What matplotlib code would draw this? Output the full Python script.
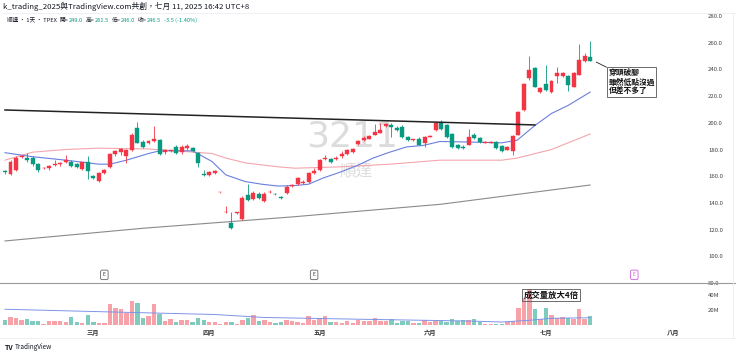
#! /usr/bin/env python
import matplotlib
matplotlib.use('Agg')
import matplotlib.pyplot as plt
import matplotlib.transforms as mtrans
from matplotlib.lines import Line2D

plt.rcParams['font.family'] = ['Noto Sans CJK TC', 'DejaVu Sans']

# daily bars, index 0 = first visible session
opens = [164, 162, 165, 174.5, 174, 174, 169, 166, 166, 168.5,
         169, 170.6, 171, 169, 165.3, 170.6, 160, 156.4, 162.4, 167,
         176.6, 178, 175, 180, 196, 185.6, 185, 186.4, 187, 178,
         178.8, 182, 178, 181, 181, 177.4, 161.8, 161, 162.6, 148,
         133, 125, 132.5, 128, 146, 143, 147, 141.6, 148, 146.6,
         144.5, 147.4, 152.6, 154, 155, 155.6, 162.4, 165, 172.9, 173,
         172.9, 175, 177, 178, 184, 187, 188, 191, 192.4, 197.6,
         198.4, 196, 197, 189, 187, 188, 184.6, 189.5, 194.6, 200,
         198, 191.6, 183.4, 182, 183.4, 191, 188.6, 185, 185, 185.6,
         182.6, 180, 179, 191, 209.6, 233.6, 241, 223, 229, 223,
         235, 235, 235, 227, 236, 246, 249]
highs = [165, 172, 175, 176, 177.6, 175, 170, 167, 168.5, 172,
         171, 176, 172, 170, 171, 175, 161, 163, 165.5, 177.5,
         179.5, 181, 180.5, 192, 200.6, 187, 187, 197.6, 188, 180.5,
         180, 183, 183, 184, 182, 178, 165, 164, 165, 148.5,
         138, 133, 133.5, 145, 154, 149, 148, 148, 149.5, 147.5,
         145, 153.5, 154, 159.5, 157, 163, 166, 173, 176, 174,
         175.5, 179, 180.5, 181.5, 187, 190, 191, 199, 200, 200,
         199.5, 197.5, 198, 190, 188, 189, 190, 191, 200.5, 202,
         199, 192, 184, 183, 195, 192, 189.5, 186, 186.5, 186,
         183, 182.5, 190.5, 208.5, 229.5, 250, 242, 226.5, 243, 232,
         242, 238, 236, 238, 259, 252, 261.5]
lows = [162, 161, 164, 173.5, 171, 168, 163.5, 165.5, 165, 168,
        168, 170, 167, 166, 164.5, 158, 158, 155.5, 161.5, 166,
        175.5, 176, 170, 179, 184.5, 181, 184, 185.5, 176, 177,
        178, 177, 177, 180, 178.5, 167, 160, 160, 162, 147.5,
        132.5, 120.5, 132, 127, 141.5, 142, 143, 141, 147.5, 146,
        143, 147, 152, 153.5, 154.5, 155, 162, 164, 172, 170,
        172, 174, 176, 177.5, 183, 186, 187.5, 190.5, 192, 197,
        189, 194, 188.5, 186.5, 186.5, 183, 182, 189, 194, 194.5,
        188.5, 181.5, 180.5, 180.5, 183, 188, 185, 184.5, 184.5, 180.5,
        178, 179.5, 176, 190.5, 209, 232, 226.5, 222.5, 224, 222.5,
        230, 234.5, 224, 226.5, 235.5, 245.5, 246]
closes = [163, 171, 174, 175.5, 172, 169, 164.6, 166.5, 167.5, 169.5,
          170, 172, 168, 167, 170.6, 164, 158.7, 162.4, 164.6, 176.6,
          178.9, 180.4, 179.6, 191, 185, 182, 186, 187.8, 177, 179.6,
          179.3, 177.6, 182, 182.6, 179, 170, 161, 163, 164, 148,
          133, 121, 133, 144, 142.4, 147.4, 143.7, 147, 148, 146.3,
          144, 152, 153, 158.6, 155.6, 162.4, 164, 172, 174, 170.6,
          174, 177, 179.6, 180.4, 186.4, 188.6, 190, 193, 194.6, 199,
          197, 194.6, 189, 187, 187.2, 183.4, 189, 190.3, 200, 195,
          189, 182, 181, 181, 189, 188.6, 185.6, 185.2, 185.6, 181,
          179, 182, 190, 208, 229, 239.6, 227, 226, 224.6, 231,
          237, 237, 228, 237, 247, 250, 246.5]
volumes = [6.3, 10.7, 8.9, 7.1, 8, 5.3, 5.3, 1.7, 4.9, 4.9,
           4.9, 3.6, 10.7, 4.4, 2.7, 13.3, 3.6, 2.7, 2.7, 28.4,
           23.1, 21.7, 15.6, 32, 29.7, 9.7, 12, 28.4, 14.3, 5.3,
           7.6, 3.6, 6.3, 6.3, 3.6, 9.7, 6.3, 3.6, 3.6, 0.9,
           4.4, 4.4, 0.9, 6.3, 8.9, 13.3, 5.3, 6.3, 4.4, 2.7,
           4.4, 7.1, 5.3, 3.6, 2.7, 12, 7.1, 9.7, 12, 4.4,
           4.4, 2.7, 5.3, 2.7, 6.3, 5.3, 5.3, 8.9, 5.3, 5.3,
           8, 2.7, 5.3, 5.3, 2.7, 2.7, 6.3, 4.4, 5.3, 5.3,
           4.4, 7.6, 5.3, 6.3, 7.1, 7.6, 3.6, 1.7, 0.9, 1.7,
           1.7, 4.4, 5.3, 23.1, 35.6, 47.6, 20.9, 7.6, 23.1, 12.9,
           8.9, 10.7, 8.9, 7.6, 20.9, 7.6, 12]

# moving averages (bar index, value)
ma20_x = [0, 5, 11, 17, 19, 22, 26, 28, 31, 34, 37.5, 40, 43.5, 46.5, 49.5, 52.5,
          55, 57.6, 60.7, 63.8, 66.7, 69.7, 72.8, 75.7, 78.8, 84, 90, 92.8, 96, 99, 102, 106]
ma20_y = [177.6, 174.6, 172, 169, 169, 172, 177, 179, 179, 179, 171, 161, 156, 154, 152.6, 153,
          154, 158.6, 163, 168, 173.6, 178, 182, 183, 186, 185.6, 185, 187, 198, 207, 213, 223]
ma60_x = [0, 5, 11, 17, 26, 31, 37.5, 40, 43.5, 49.5, 52.5, 60.7, 69.7, 78.8, 90, 92.8, 99, 106]
ma60_y = [172, 178, 180, 181, 180.4, 179, 177, 173.6, 170, 167, 166, 167, 169, 172, 172, 173.6, 180, 191.6]
ma240_x = [0, 25, 52, 79, 106]
ma240_y = [111.5, 121, 129.5, 139, 153.4]
vol_ma_x = [0, 17, 38, 47, 65, 84, 90, 95, 99, 106]
vol_ma_y = [21, 17.8, 14, 10, 7.6, 5.3, 4, 6.3, 8.9, 9.7]

# neckline drawn on the chart
trend_x = [0, 96]
trend_y = [209.6, 198.4]

month_labels = ['三月', '四月', '五月', '六月', '七月', '八月']
month_pos = [16, 37, 57, 77, 98, 121]
earnings_pos = [18, 56, 114]
price_ticks = [80, 100, 120, 140, 160, 180, 200, 220, 240, 260, 280]
vol_ticks = [20, 40]

UP = '#f23645'
DN = '#089981'
UP_V = '#f7a2a9'
DN_V = '#80cbbd'
W, H = 740, 355

def fx(px):
    return px / W

def fy(py):
    return 1 - py / H

fig = plt.figure(figsize=(7.4, 3.55), dpi=100)
fig.patch.set_facecolor('white')

ax = fig.add_axes([fx(3), fy(283), fx(694), 271 / H])
axv = fig.add_axes([fx(3), fy(326), fx(694), 42 / H], sharex=ax)

n = len(closes)
for i in range(n):
    o, h, l, c = opens[i], highs[i], lows[i], closes[i]
    col = UP if c >= o else DN
    ax.vlines(i, l, h, color=col, lw=0.6, zorder=3)
    ax.bar(i, max(abs(c - o), 0.5), bottom=min(o, c), width=0.72, color=col,
           edgecolor=col, lw=0.3, zorder=4)
    axv.bar(i, volumes[i], width=0.8, color=UP_V if c >= o else DN_V, zorder=2)

ax.plot(ma240_x, ma240_y, color='#8a8a8a', lw=0.8, zorder=2)
ax.plot(ma60_x, ma60_y, color='#f3a6ae', lw=0.8, zorder=2)
ax.plot(ma20_x, ma20_y, color='#6a7fe0', lw=0.8, zorder=2)
ax.plot(trend_x, trend_y, color='#222222', lw=1.1, zorder=5)
axv.plot(vol_ma_x, vol_ma_y, color='#7e94e8', lw=0.7, zorder=3)

# watermark
ax.text(0.503, 0.54, '3211', transform=ax.transAxes, fontsize=26, color='#dcdcdc',
        ha='center', va='center', zorder=1, family=['DejaVu Sans'])
ax.text(0.509, 0.415, '順達', transform=ax.transAxes, fontsize=12, color='#dcdcdc',
        ha='center', va='center', zorder=1)

# earnings markers
tr = mtrans.blended_transform_factory(ax.transData, ax.transAxes)
for k, e in enumerate(earnings_pos):
    ec = '#d060e0' if k == len(earnings_pos) - 1 else '#666666'
    tc = '#d060e0' if k == len(earnings_pos) - 1 else '#333333'
    ax.text(e, 0.03, 'E', transform=tr, fontsize=3.6, color=tc, ha='center', va='center',
            bbox=dict(boxstyle='round,pad=0.45,rounding_size=0.3', fc='white', ec=ec, lw=0.6))

ax.annotate('穿頭破腳\n雖然低點沒過\n但差不多了', xy=(107.1, 245.5), xytext=(109.3, 230.6),
            fontsize=5.6, fontweight='bold', color='#111111', ha='left', va='center',
            linespacing=1.05,
            bbox=dict(boxstyle='square,pad=0.2', fc='white', ec='#555555', lw=0.6),
            arrowprops=dict(arrowstyle='-', color='#222222', lw=0.6, relpos=(0, 1),
                            shrinkA=0, shrinkB=0))

axv.text(98.9, 40, '成交量放大4倍', fontsize=6, fontweight='bold', color='#111111',
         ha='center', va='center', zorder=6,
         bbox=dict(boxstyle='square,pad=0.15', fc='none', ec='#555555', lw=0.6))

ax.set_xlim(-0.36, 125.36)
ax.set_ylim(80, 283)
axv.set_ylim(-1.33, 54.67)

for a in (ax, axv):
    for s in a.spines.values():
        s.set_visible(False)
    a.yaxis.tick_right()
    a.tick_params(axis='y', length=0, pad=8, labelsize=4.3, labelcolor='#444444')

ax.set_yticks(price_ticks)
ax.set_yticklabels(['%.1f' % t for t in price_ticks])
ax.tick_params(axis='x', bottom=False, labelbottom=False)
axv.set_yticks(vol_ticks)
axv.set_yticklabels(['%dM' % t for t in vol_ticks])
axv.set_xticks(month_pos)
axv.set_xticklabels(month_labels, fontweight='bold')
axv.tick_params(axis='x', length=0, pad=2.5, labelsize=4.5, labelcolor='#333333')

# pane borders
fig.add_artist(Line2D([0, fx(735)], [fy(283.3)] * 2, color='#9a9a9a', lw=0.8))
fig.add_artist(Line2D([fx(3), fx(735)], [fy(13)] * 2, color='#eceef2', lw=0.6))
fig.add_artist(Line2D([fx(733)] * 2, [fy(13), fy(338)], color='#eceef2', lw=0.6))
fig.add_artist(Line2D([0, fx(735)], [fy(338)] * 2, color='#eceef2', lw=0.6))

# header
fig.text(fx(3), fy(6), 'k_trading_2025與TradingView.com共創，七月 11, 2025 16:42 UTC+8',
         fontsize=5.6, color='#131722', va='center')

renderer = fig.canvas.get_renderer()
chg = closes[-1] - closes[-2]
pieces = [('順達 · 1天 · TPEX', '#131722', 3),
          ('開=', '#131722', 0), ('%.1f' % opens[-1], DN, 3),
          ('高=', '#131722', 0), ('%.1f' % highs[-1], DN, 3),
          ('低=', '#131722', 0), ('%.1f' % lows[-1], DN, 3),
          ('收=', '#131722', 0), ('%.1f' % closes[-1], DN, 3),
          ('%.1f (%.2f%%)' % (chg, chg / closes[-2] * 100), DN, 0)]
xp = 7
for txt, col, gap in pieces:
    t = fig.text(fx(xp), fy(20), txt, fontsize=4.1, color=col, va='center')
    xp += t.get_window_extent(renderer).width + gap

fig.text(fx(5), fy(347), 'TV', fontsize=5, fontweight='bold', color='#131722', va='center')
fig.text(fx(15), fy(347), 'TradingView', fontsize=4.6, color='#131722', va='center')

fig.savefig('out.png', dpi=100, facecolor='white')
